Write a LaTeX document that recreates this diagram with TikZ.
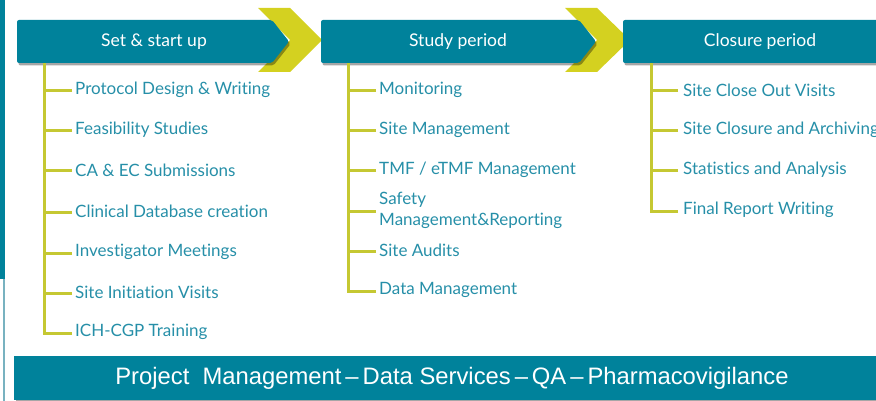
\documentclass[tikz,border=0pt]{standalone}
\usepackage{fontspec}
\setmainfont[Ligatures={NoCommon,NoRare}]{Lato}
\newfontfamily\barfont{Liberation Sans}
\usetikzlibrary{shadows}
\definecolor{teal1}{RGB}{0,130,155}
\definecolor{chev}{RGB}{212,209,32}
\definecolor{branchc}{RGB}{197,200,50}
\definecolor{itemc}{RGB}{38,143,168}
\definecolor{edgec}{RGB}{120,178,192}
\tikzset{
  hdr/.style={fill=teal1, rounded corners=2pt, drop shadow={shadow xshift=1.5pt, shadow yshift=-2.5pt, opacity=0.35, fill=black}},
  hdrtext/.style={text=white, font=\fontsize{17.5}{20}\selectfont, inner sep=0pt},
  chevron/.style={fill=chev},
  item/.style={text=itemc, font=\fontsize{17}{21}\selectfont, anchor=west, inner sep=0pt, align=left},
  branch/.style={draw=branchc, line width=3pt},
}
\begin{document}
\begin{tikzpicture}[x=1pt,y=-1pt]
\useasboundingbox (0,0) rectangle (876,401);
\clip (0,0) rectangle (876,401);
% left edge
\fill[teal1] (0,0) rectangle (4.5,279);
\draw[edgec, line width=1.6pt] (4,279) -- (4,401);
% chevrons
\fill[chevron] (258,8) -- (290,8) -- (322,40) -- (290,72) -- (258,72) -- (290,40) -- cycle;
\fill[chevron] (565,8) -- (597,8) -- (630,40) -- (597,72) -- (565,72) -- (597,40) -- cycle;
% header boxes
\path[hdr] (17,20) -- (272,20) -- (289,41.5) -- (272,63) -- (17,63) -- cycle;
\path[hdr] (321,20) -- (579,20) -- (596,41.5) -- (579,63) -- (321,63) -- cycle;
\path[hdr] (623,20) -- (880,20) -- (880,63) -- (623,63) -- cycle;
\node[hdrtext] (h1) at (154,42) {Set \& start up};
\node[hdrtext] (h2) at (458,42) {Study period};
\node[hdrtext] (h3) at (760,42) {Closure period};
% column 1
\coordinate (t1) at (44,63);
\node[item] (a1) at (75,90) {Protocol Design \& Writing};
\node[item] (a2) at (75,130) {Feasibility Studies};
\node[item] (a3) at (75,170) {CA \& EC Submissions};
\node[item] (a4) at (75,211) {Clinical Database creation};
\node[item] (a5) at (75,252) {Investigator Meetings};
\node[item] (a6) at (75,292) {Site Initiation Visits};
\node[item] (a7) at (75,332) {ICH-CGP Training};
\foreach \n in {a1,a2,a3,a4,a5,a6,a7}{
  \draw[branch] ([xshift=-3pt,yshift=-1pt]\n.west) -| (t1);
}
% column 2
\coordinate (t2) at (348,63);
\node[item] (b1) at (379,90) {Monitoring};
\node[item] (b2) at (379,130) {Site Management};
\node[item] (b3) at (379,170) {TMF / eTMF Management};
\node[item] (b4) at (379,210.5) {Safety\\Management\&Reporting};
\node[item] (b5) at (379,250) {Site Audits};
\node[item] (b6) at (379,290) {Data Management};
\foreach \n in {b1,b2,b3,b4,b5,b6}{
  \draw[branch] ([xshift=-3pt,yshift=-1pt]\n.west) -| (t2);
}
% column 3
\coordinate (t3) at (651,63);
\node[item] (c1) at (683,90) {Site Close Out Visits};
\node[item] (c2) at (683,130) {Site Closure and Archiving};
\node[item] (c3) at (683,170) {Statistics and Analysis};
\node[item] (c4) at (683,210) {Final Report Writing};
\foreach \n in {c1,c2,c3,c4}{
  \draw[branch] ([xshift=-5pt,yshift=-1pt]\n.west) -| (t3);
}
% bottom bar
\path[hdr, rounded corners=0pt] (14,356) rectangle (880,400);
\node[text=white, inner sep=0pt, font=\barfont\fontsize{23.8}{27}\selectfont] (bar) at (452,378.5) {Project\ \ Management\,–\,Data Services\,–\,QA\,–\,Pharmacovigilance};
\end{tikzpicture}
\end{document}
